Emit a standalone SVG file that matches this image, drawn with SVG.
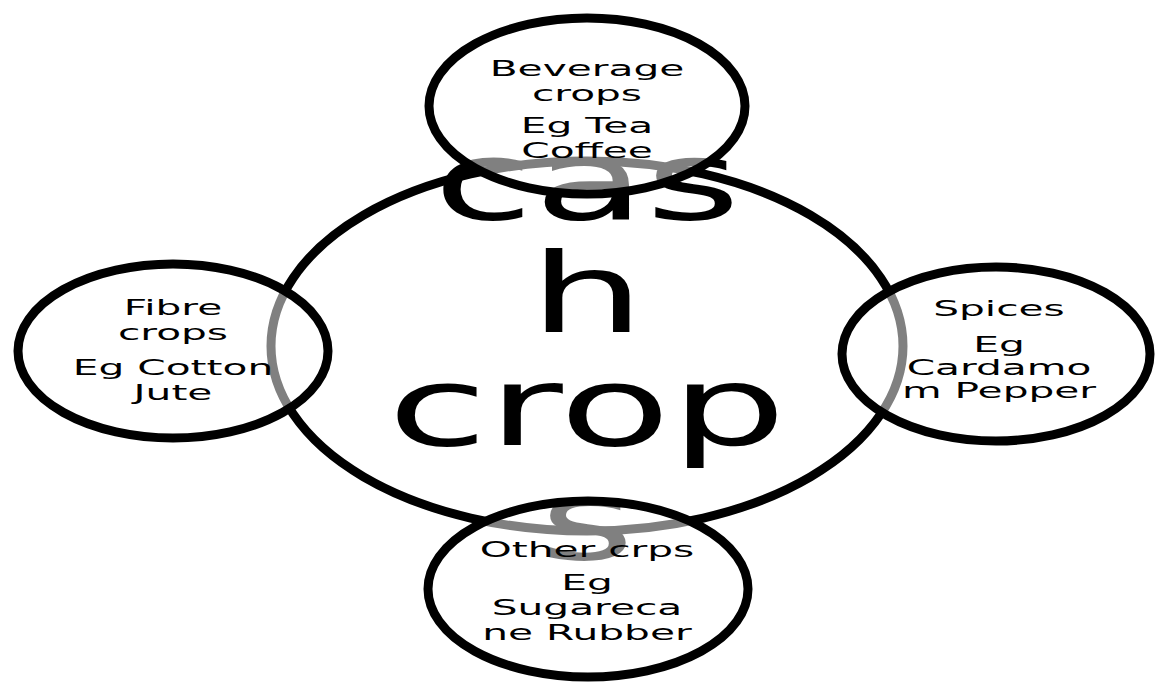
<svg xmlns="http://www.w3.org/2000/svg" width="1155" height="682" viewBox="0 0 1155 682">
<style>
.hub{fill:#fff;stroke:#000;stroke-width:9}
.sat{fill:#fff;fill-opacity:0.5;stroke:#000;stroke-width:9}
text{font-family:"DejaVu Sans","Liberation Sans",sans-serif;fill:#000;text-anchor:middle}
.big{font-size:110px}
.small{font-size:22px}
</style>
<rect width="1155" height="682" fill="#fff"/>
<g id="connectors"></g>
<g id="hub">
<ellipse class="hub" cx="587" cy="346" rx="316" ry="185"/>
<g transform="translate(587,0) scale(1.66,1)">
<text class="big" x="0" y="219">cas</text>
<text class="big" x="0" y="332">h</text>
<text class="big" x="0" y="445">crop</text>
<text class="big" x="0" y="559">s</text>
</g>
</g>
<g id="beverage">
<ellipse class="sat" cx="587" cy="106" rx="158" ry="88"/>
<g transform="translate(587,0) scale(1.85,1)">
<text class="small" x="0" y="76">Beverage</text>
<text class="small" x="0" y="101">crops</text>
<text class="small" x="0" y="133">Eg Tea</text>
<text class="small" x="0" y="158">Coffee</text>
</g>
</g>
<g id="fibre">
<ellipse class="sat" cx="173" cy="351" rx="155" ry="87"/>
<g transform="translate(173,0) scale(1.85,1)">
<text class="small" x="0" y="315">Fibre</text>
<text class="small" x="0" y="340">crops</text>
<text class="small" x="0" y="375">Eg Cotton</text>
<text class="small" x="0" y="400">Jute</text>
</g>
</g>
<g id="spices">
<ellipse class="sat" cx="996" cy="354" rx="154" ry="87"/>
<g transform="translate(999,0) scale(1.85,1)">
<text class="small" x="0" y="316">Spices</text>
<text class="small" x="0" y="352">Eg</text>
<text class="small" x="0" y="375">Cardamo</text>
<text class="small" x="0" y="398">m Pepper</text>
</g>
</g>
<g id="other">
<ellipse class="sat" cx="588" cy="589" rx="160" ry="88"/>
<g transform="translate(587,0) scale(1.85,1)">
<text class="small" x="0" y="557">Other crps</text>
<text class="small" x="0" y="590">Eg</text>
<text class="small" x="0" y="615">Sugareca</text>
<text class="small" x="0" y="640">ne Rubber</text>
</g>
</g>
</svg>
